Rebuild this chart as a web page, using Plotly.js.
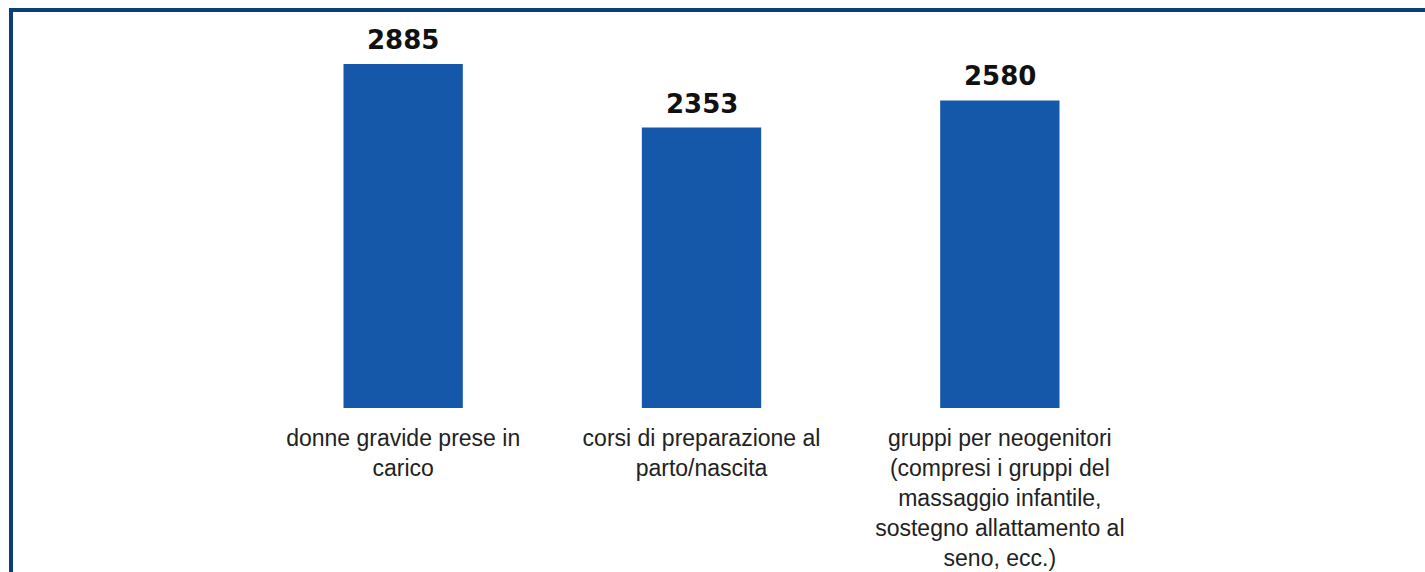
<!DOCTYPE html>
<html>
<head>
<meta charset="utf-8">
<script src="https://cdn.plot.ly/plotly-3.0.1.min.js"></script>
<style>
  html, body { margin: 0; padding: 0; background: #ffffff; }
  #wrap { position: relative; width: 1425px; height: 572px; overflow: hidden; }
  #chart { position: absolute; left: 0; top: 0; width: 1425px; height: 572px; }
  #frame { position: absolute; left: 9px; top: 8px; width: 1430px; height: 600px;
           border-top: 4px solid #0c3f78; border-left: 4px solid #0c3f78;
           pointer-events: none; }
</style>
</head>
<body>
<div id="wrap">
  <div id="chart"></div>
  <div id="frame"></div>
</div>
<script>
const categories = [
  "donne gravide prese in<br>carico",
  "corsi di preparazione al<br>parto/nascita",
  "gruppi per neogenitori<br>(compresi i gruppi del<br>massaggio infantile,<br>sostegno allattamento al<br>seno, ecc.)"
];
const values = [2885, 2353, 2580];

const trace = {
  type: "bar",
  x: categories,
  y: values,
  width: 0.40,
  marker: { color: "#1558aa" },
  hoverinfo: "x+y"
};

const annotations = categories.map((c, i) => ({
  x: c,
  y: values[i],
  xref: "x",
  yref: "y",
  text: String(values[i]),
  showarrow: false,
  yanchor: "bottom",
  yshift: 7,
  font: { family: "DejaVu Sans", size: 26, color: "#111111", weight: "bold" }
}));

const layout = {
  width: 1425,
  height: 572,
  margin: { l: 254, r: 276, t: 30, b: 164 },
  paper_bgcolor: "#ffffff",
  plot_bgcolor: "#ffffff",
  showlegend: false,
  annotations: annotations,
  xaxis: {
    type: "category",
    range: [-0.5, 2.5],
    showline: false,
    showgrid: false,
    zeroline: false,
    ticks: "",
    tickangle: 0,
    ticklabelstandoff: 14,
    tickfont: { family: "Liberation Sans, Arial, sans-serif", size: 23, color: "#222222" },
    automargin: false
  },
  yaxis: {
    range: [0, 3171],
    showgrid: false,
    zeroline: false,
    showline: false,
    showticklabels: false,
    ticks: ""
  }
};

Plotly.newPlot("chart", [trace], layout, { staticPlot: true, displayModeBar: false });
</script>
</body>
</html>
